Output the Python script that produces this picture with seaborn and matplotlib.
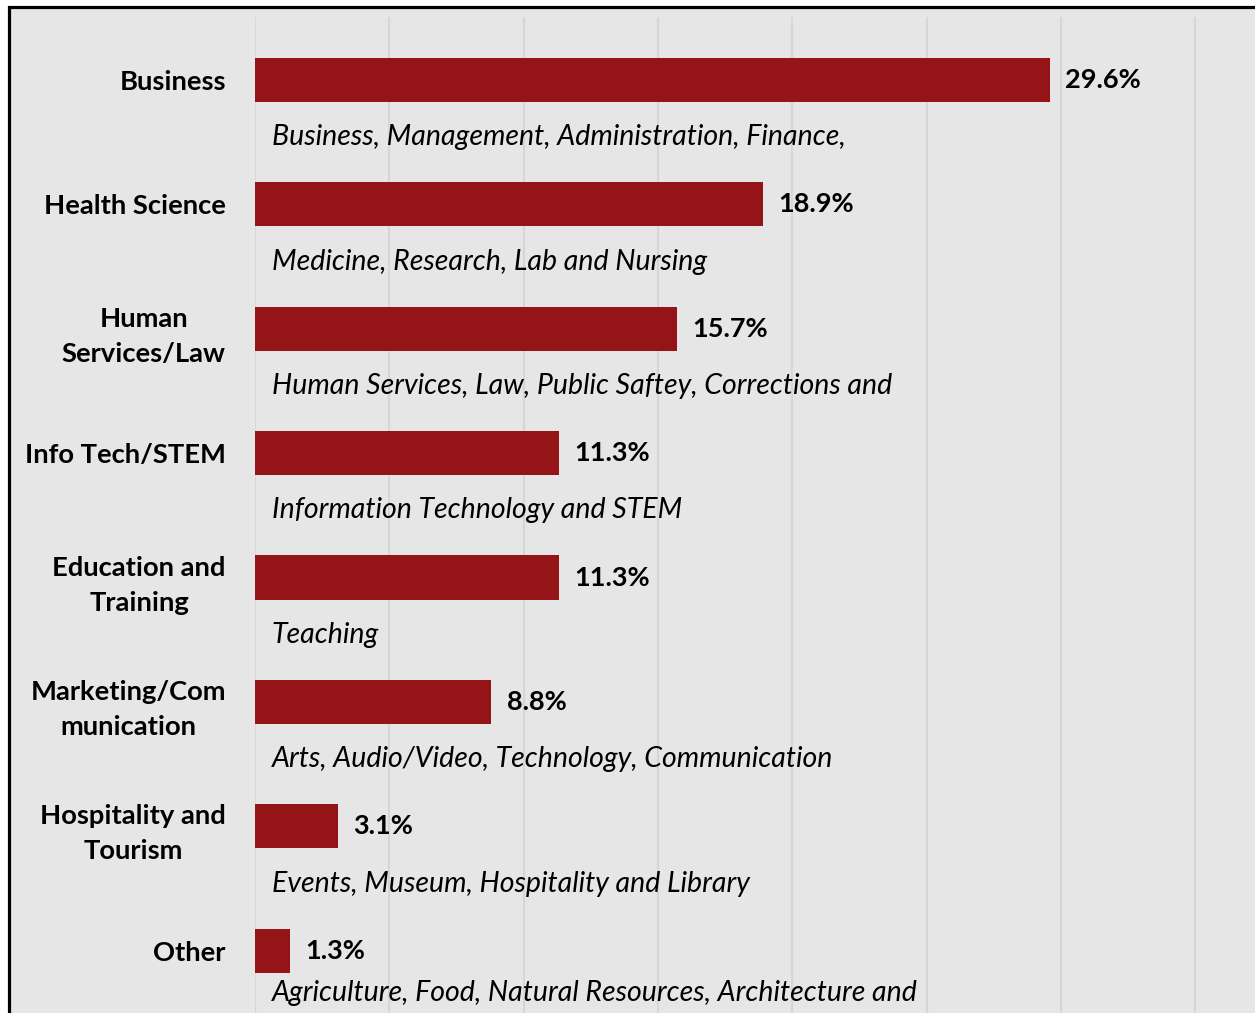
import matplotlib
matplotlib.use("Agg")
import matplotlib.pyplot as plt
import seaborn as sns
from matplotlib.patches import Rectangle

categories = ["Business", "Health Science", "Human\nServices/Law", "Info Tech/STEM",
              "Education and\nTraining", "Marketing/Com\nmunication",
              "Hospitality and\nTourism", "Other"]
shares = [29.6, 18.9, 15.7, 11.3, 11.3, 8.8, 3.1, 1.3]
details = ["Business, Management, Administration, Finance,",
           "Medicine, Research, Lab and Nursing",
           "Human Services, Law, Public Saftey, Corrections and",
           "Information Technology and STEM",
           "Teaching",
           "Arts, Audio/Video, Technology, Communication",
           "Events, Museum, Hospitality and Library",
           "Agriculture, Food, Natural Resources, Architecture and"]

BG = "#e6e6e6"
BAR = "#941417"

sns.set_style("white")
plt.rcParams["font.family"] = ["Lato", "DejaVu Sans"]
plt.rcParams["text.color"] = "black"
plt.rcParams["ytick.color"] = "black"
plt.rcParams["ytick.labelcolor"] = "black"

W, H = 1255, 1013
fig = plt.figure(figsize=(W / 100, H / 100), dpi=100, facecolor="white")

# grey panel with black frame (cropped on right and bottom)
fig.patches.append(Rectangle((9 / W, -0.05), 1.2, 1 - 7 / H + 0.05, transform=fig.transFigure,
                             facecolor=BG, edgecolor="black", linewidth=2.3, zorder=-10))

ax = fig.add_axes([255 / W, 0, 1 - 255 / W, 1 - 17 / H])
ax.set_facecolor(BG)
ax.patch.set_alpha(0)

sns.barplot(x=shares, y=categories, orient="h", color=BAR, saturation=1,
            width=0.355, linewidth=0, ax=ax, zorder=3)

ax.set_xlim(0, 1000 / 26.86)
ax.set_ylim(7.5, -0.506)
ax.set_xticks(range(0, 40, 5))
ax.set_xticklabels([])
ax.grid(axis="x", color="#d6d6d6", linewidth=1.5, zorder=0)
ax.set_axisbelow(True)
for s in ax.spines.values():
    s.set_visible(False)
ax.tick_params(axis="both", length=0)
ax.tick_params(axis="y", pad=21)
for lab in ax.get_yticklabels():
    lab.set_fontsize(19.7)
    lab.set_fontweight("bold")
    lab.set_color("black")
    lab.set_multialignment("center")
    lab.set_linespacing(1.55)
ax.set_xlabel("")
ax.set_ylabel("")

for cont in ax.containers:
    ax.bar_label(cont, labels=[f"{v:.1f}%" for v in shares], padding=11,
                 fontsize=19.5, fontweight="bold", color="black")

for i, txt in enumerate(details):
    off = 0.46 if i < len(details) - 1 else 0.34
    ax.text(0.63, i + off, txt, fontsize=20.5, fontstyle="italic", va="center", ha="left",
            color="black")

fig.savefig("out.png", dpi=100, facecolor="white")
